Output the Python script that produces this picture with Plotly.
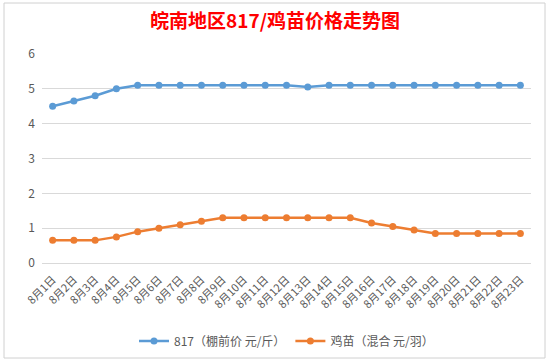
import plotly.graph_objects as go

categories = [f"8月{d}日" for d in range(1, 24)]
price_817 = [4.5, 4.65, 4.8, 5.0, 5.1, 5.1, 5.1, 5.1, 5.1, 5.1, 5.1, 5.1, 5.05,
             5.1, 5.1, 5.1, 5.1, 5.1, 5.1, 5.1, 5.1, 5.1, 5.1]
price_chick = [0.65, 0.65, 0.65, 0.75, 0.9, 1.0, 1.1, 1.2, 1.3, 1.3, 1.3, 1.3, 1.3,
               1.3, 1.3, 1.15, 1.05, 0.95, 0.85, 0.85, 0.85, 0.85, 0.85]
series_names = ["817（棚前价 元/斤）", "鸡苗（混合 元/羽）"]
title_text = "皖南地区817/鸡苗价格走势图"

W, H = 550, 363
L, R, T, B = 42, 531, 54, 263

def px(x):
    return (x - L) / (R - L)

def py(y):
    return (B - y) / (B - T)

font_fam = "Noto Sans CJK SC, Noto Sans, sans-serif"

fig = go.Figure()
fig.add_trace(go.Scatter(x=categories, y=price_817, name=series_names[0],
                         mode="lines+markers",
                         line=dict(color="#5B9BD5", width=2.5),
                         marker=dict(color="#5B9BD5", size=7)))
fig.add_trace(go.Scatter(x=categories, y=price_chick, name=series_names[1],
                         mode="lines+markers",
                         line=dict(color="#ED7D31", width=2.5),
                         marker=dict(color="#ED7D31", size=7)))

frame_color = "#D0D0D0"
shapes = [
    dict(type="rect", xref="paper", yref="paper",
         x0=px(4), x1=px(545), y0=py(358), y1=py(3),
         line=dict(color=frame_color, width=1), fillcolor="rgba(0,0,0,0)", layer="below"),
]

fig.update_layout(
    width=W, height=H,
    margin=dict(l=L, r=W - R, t=T, b=H - B, autoexpand=False),
    paper_bgcolor="white", plot_bgcolor="white",
    title=dict(text=f"<b>{title_text}</b>", x=0.5, xanchor="center",
               y=1 - 21 / H, yanchor="middle",
               font=dict(family=font_fam, size=19, color="#FF0000")),
    font=dict(family=font_fam, size=11, color="#595959"),
    showlegend=True,
    legend=dict(orientation="h", x=0.5, xanchor="center", y=py(341), yanchor="middle",
                font=dict(size=12, color="#595959"),
                bgcolor="rgba(0,0,0,0)"),
    xaxis=dict(type="category", range=[-0.5, len(categories) - 0.5],
               tickangle=-45, showgrid=False, automargin=False,
               showline=True, linecolor="#D9D9D9", linewidth=1,
               tickfont=dict(size=11, color="#595959"), ticks="",
               ticklabelstandoff=5),
    yaxis=dict(range=[0, 6], dtick=1, showgrid=True, gridcolor="#D9D9D9",
               zeroline=False, showline=False, ticks="", automargin=False,
               tickfont=dict(size=12, color="#595959"), ticklabelstandoff=6),
    shapes=shapes,
)

fig.write_html("out.html",
               config={"displayModeBar": False},
               post_script="document.body.style.margin='0';document.body.style.overflow='hidden';")
